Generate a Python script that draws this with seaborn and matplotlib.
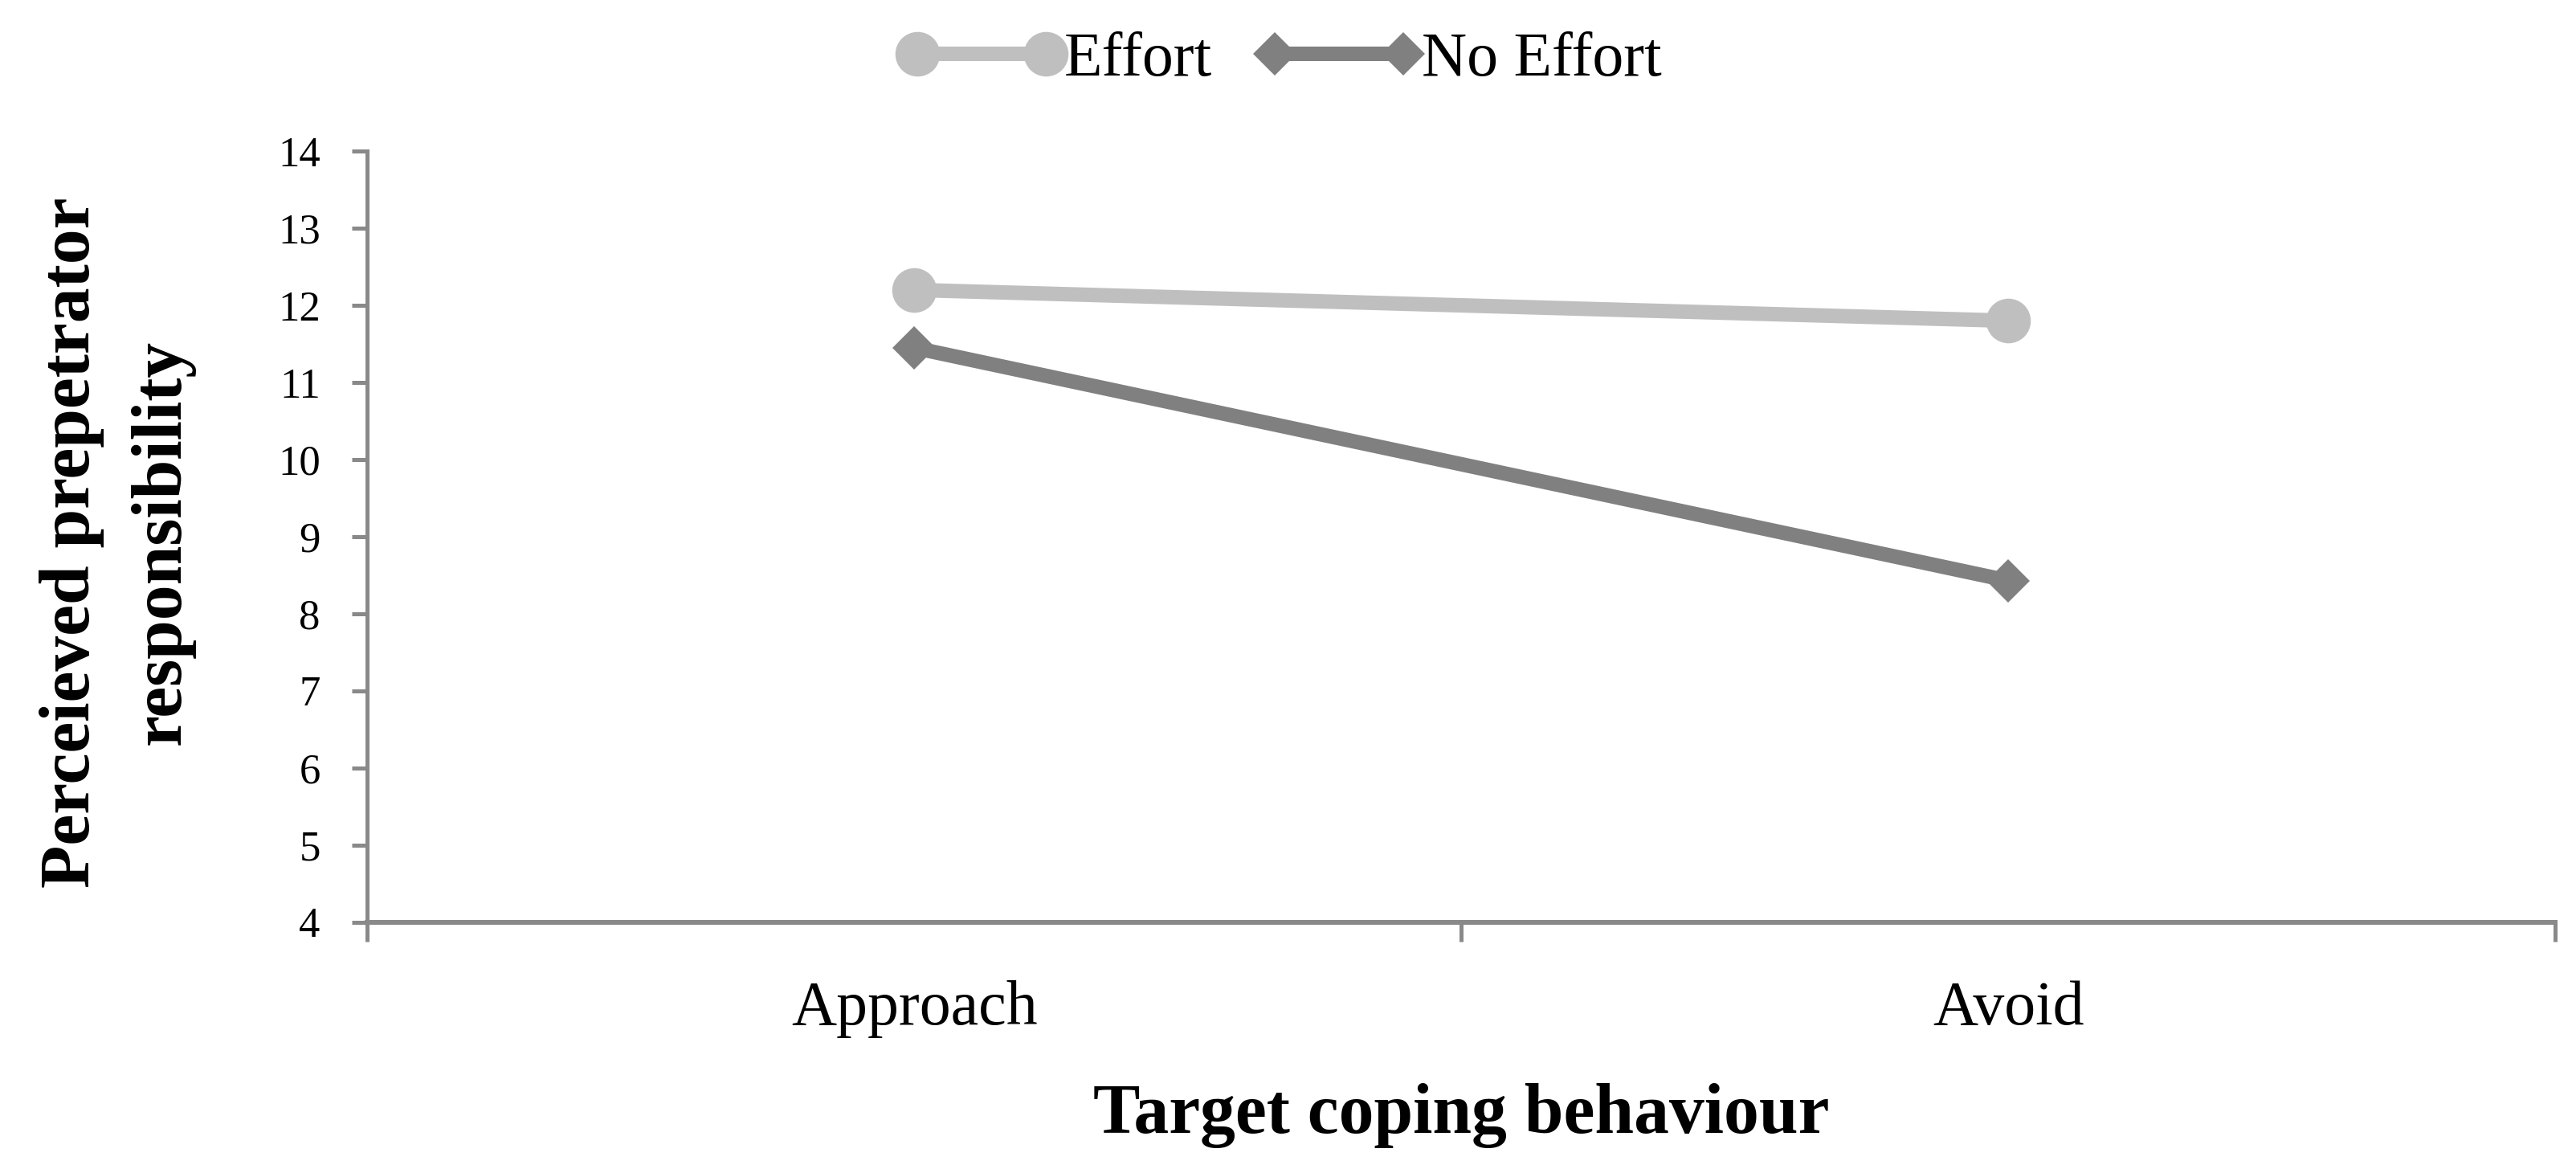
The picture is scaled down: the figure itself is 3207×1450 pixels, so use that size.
import matplotlib
matplotlib.use("Agg")
import matplotlib.pyplot as plt
import seaborn as sns
import pandas as pd
from matplotlib.ticker import FixedLocator

categories = ["Approach", "Avoid"]
effort = [12.2, 11.8]
no_effort = [11.45, 8.43]
series_names = ["Effort", "No Effort"]
y_ticks = list(range(4, 15))

df = pd.DataFrame({
    "behaviour": categories * 2,
    "value": effort + no_effort,
    "condition": [series_names[0]] * 2 + [series_names[1]] * 2,
})

sns.set_style("white")
plt.rcParams["font.family"] = ["Liberation Serif", "DejaVu Serif"]
plt.rcParams["text.color"] = "black"
plt.rcParams["axes.labelcolor"] = "black"
plt.rcParams["xtick.labelcolor"] = "black"
plt.rcParams["ytick.labelcolor"] = "black"

DPI = 100
fig = plt.figure(figsize=(32.07, 14.5), dpi=DPI)
ax = fig.add_axes([0.1425, 0.2083, 0.992 - 0.1425, 0.8703 - 0.2083])

palette = {"Effort": "#BFBFBF", "No Effort": "#808080"}
sns.lineplot(data=df, x="behaviour", y="value", hue="condition", style="condition",
             markers={"Effort": "o", "No Effort": "D"}, dashes=False,
             palette=palette, linewidth=13, markersize=40, markeredgewidth=0,
             legend=False, ax=ax, sort=False)
for ln in ax.lines:
    if ln.get_marker() == "D":
        ln.set_markersize(28)

ax.set_xlim(-0.5, 1.5)
ax.set_ylim(4, 14)
ax.set_yticks(y_ticks)
ax.set_xticks([0, 1])
ax.set_xticklabels(categories)
ax.xaxis.set_minor_locator(FixedLocator([-0.5, 0.5, 1.5]))

axis_color = "#898989"
for s in ["top", "right"]:
    ax.spines[s].set_visible(False)
ax.spines["left"].set_color(axis_color)
ax.spines["left"].set_linewidth(3.6)
ax.spines["bottom"].set_color(axis_color)
ax.spines["bottom"].set_linewidth(4.3)

ax.tick_params(axis="y", which="major", direction="out", length=14, width=3.6,
               color=axis_color, labelsize=38, pad=28, left=True, labelcolor="black")
ax.tick_params(axis="x", which="major", length=0, labelsize=56, pad=52, labelcolor="black")
ax.tick_params(axis="x", which="minor", direction="out", length=17, width=3.6,
               color=axis_color, bottom=True)

ax.set_xlabel("Target coping behaviour", fontsize=63, fontweight="bold", labelpad=40,
              color="black")
ax.set_ylabel("")
fig.text(0.0455, 0.5345, "Perceieved prepetrator\nresponsibility", rotation=90,
         ha="center", va="center", fontsize=63, fontweight="bold", color="black",
         multialignment="center", linespacing=1.5)

leg = fig.legend(ax.lines[:2], series_names, loc="center", bbox_to_anchor=(0.497, 0.948),
                 ncol=2, frameon=False, numpoints=2, handlelength=2.65, handletextpad=0.0,
                 columnspacing=0.7, fontsize=56, borderaxespad=0)
for t in leg.get_texts():
    t.set_color("black")

fig.savefig("out.png", dpi=DPI, facecolor="white")
